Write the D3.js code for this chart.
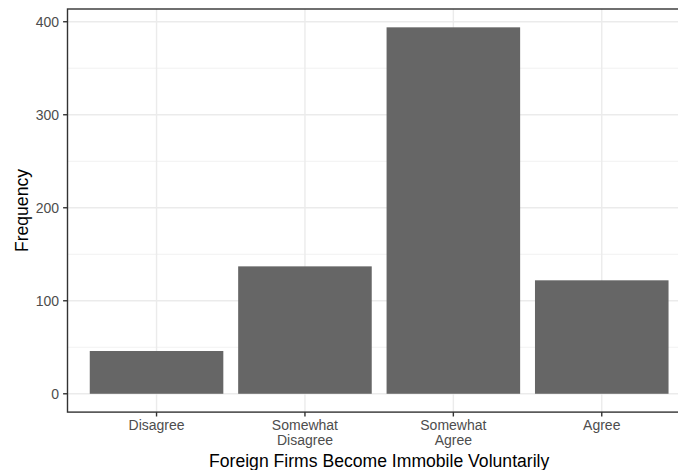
<!DOCTYPE html>
<html>
<head>
<meta charset="utf-8">
<script src="https://cdn.jsdelivr.net/npm/d3@7"></script>
<style>
  html, body { margin: 0; padding: 0; background: #ffffff; }
  svg { display: block; }
  text { font-family: "Liberation Sans", Arial, Helvetica, sans-serif; }
</style>
</head>
<body>
<div id="chart"></div>
<script>
const categories = ["Disagree", "Somewhat\nDisagree", "Somewhat\nAgree", "Agree"];
const frequencies = [46, 137, 394, 122];
const yTicks = [0, 100, 200, 300, 400];
const yMinorTicks = [50, 150, 250, 350];
const xTitle = "Foreign Firms Become Immobile Voluntarily";
const yTitle = "Frequency";

const W = 678, H = 470;
const panel = { left: 67.5, top: 9, right: 690.8, bottom: 412.1 };

const svg = d3.select("#chart").append("svg")
  .attr("width", W).attr("height", H);

const xIndex = d3.scaleLinear()
  .domain([0.4, categories.length + 0.6])
  .range([panel.left, panel.right]);
const yMax = d3.max(frequencies);
const expand = yMax * 0.05;
const y = d3.scaleLinear()
  .domain([-expand, yMax + expand])
  .range([panel.bottom, panel.top]);

const g = svg.append("g");

g.selectAll("line.ymin").data(yMinorTicks).enter().append("line")
  .attr("x1", panel.left).attr("x2", panel.right)
  .attr("y1", d => y(d)).attr("y2", d => y(d))
  .attr("stroke", "#ebebeb").attr("stroke-width", 0.7);

g.selectAll("line.ymaj").data(yTicks).enter().append("line")
  .attr("x1", panel.left).attr("x2", panel.right)
  .attr("y1", d => y(d)).attr("y2", d => y(d))
  .attr("stroke", "#ebebeb").attr("stroke-width", 1.4);

g.selectAll("line.xmaj").data(categories).enter().append("line")
  .attr("x1", (d, i) => xIndex(i + 1)).attr("x2", (d, i) => xIndex(i + 1))
  .attr("y1", panel.top).attr("y2", panel.bottom)
  .attr("stroke", "#ebebeb").attr("stroke-width", 1.4);

g.selectAll("rect.bar").data(frequencies).enter().append("rect")
  .attr("class", "bar")
  .attr("x", (d, i) => xIndex(i + 1 - 0.45))
  .attr("width", (d, i) => xIndex(i + 1 + 0.45) - xIndex(i + 1 - 0.45))
  .attr("y", d => y(d))
  .attr("height", d => y(0) - y(d))
  .attr("fill", "#666666");

g.append("rect")
  .attr("x", panel.left).attr("y", panel.top)
  .attr("width", panel.right - panel.left).attr("height", panel.bottom - panel.top)
  .attr("fill", "none").attr("stroke", "#333333").attr("stroke-width", 1.4);

const yAxisG = svg.append("g");
yTicks.forEach(t => {
  yAxisG.append("line")
    .attr("x1", panel.left - 4.4).attr("x2", panel.left)
    .attr("y1", y(t)).attr("y2", y(t))
    .attr("stroke", "#333333").attr("stroke-width", 1.4);
  yAxisG.append("text")
    .attr("x", panel.left - 8.5).attr("y", y(t))
    .attr("dy", "0.35em")
    .attr("text-anchor", "end")
    .attr("font-size", "14px")
    .attr("fill", "#4d4d4d")
    .text(t);
});

const xAxisG = svg.append("g");
categories.forEach((c, i) => {
  const cx = xIndex(i + 1);
  xAxisG.append("line")
    .attr("x1", cx).attr("x2", cx)
    .attr("y1", panel.bottom).attr("y2", panel.bottom + 4.4)
    .attr("stroke", "#333333").attr("stroke-width", 1.4);
  const lines = c.split("\n");
  const t = xAxisG.append("text")
    .attr("text-anchor", "middle")
    .attr("font-size", "14px")
    .attr("fill", "#4d4d4d");
  lines.forEach((ln, k) => {
    t.append("tspan").attr("x", cx).attr("y", 429.5 + k * 15.2).text(ln);
  });
});

svg.append("text")
  .attr("x", (panel.left + panel.right) / 2).attr("y", 466.5)
  .attr("text-anchor", "middle")
  .attr("font-size", "17.6px")
  .attr("fill", "#000000")
  .text(xTitle);

svg.append("text")
  .attr("transform", `translate(27.7, ${(panel.top + panel.bottom) / 2}) rotate(-90)`)
  .attr("text-anchor", "middle")
  .attr("font-size", "17.6px")
  .attr("fill", "#000000")
  .text(yTitle);
</script>
</body>
</html>
